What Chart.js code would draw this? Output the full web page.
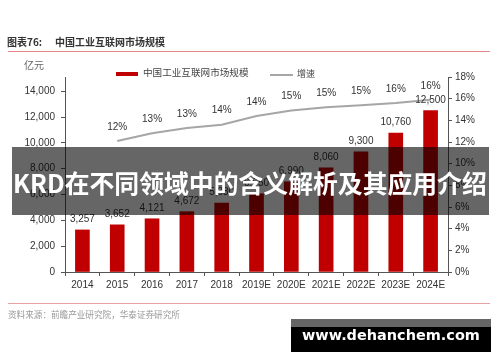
<!DOCTYPE html>
<html><head><meta charset="utf-8">
<script src="https://cdn.jsdelivr.net/npm/chart.js@4/dist/chart.umd.min.js"></script>
<style>
html,body{margin:0;padding:0;background:#fff;}
#wrap{position:relative;width:500px;height:362px;overflow:hidden;background:#fff;}
canvas{position:absolute;left:0;top:0;}
.t{position:absolute;white-space:nowrap;font-family:"Noto Sans CJK SC",sans-serif;line-height:1;}
</style></head>
<body><div id="wrap">
<canvas id="c" width="500" height="362"></canvas>
<div class="t" style="left:7px;top:37px;font-size:10px;font-weight:bold;color:#333;">图表76:</div>
<div class="t" style="left:55px;top:37px;font-size:10px;font-weight:bold;color:#333;">中国工业互联网市场规模</div>
<div style="position:absolute;left:8px;top:51px;width:482px;height:1px;background:#e58a8a;"></div>
<div class="t" style="left:24px;top:60px;font-size:10px;color:#666;">亿元</div>
<div style="position:absolute;left:116px;top:72px;width:22px;height:4px;background:#c00000;"></div>
<div class="t" style="left:143px;top:68px;font-size:9.6px;color:#444;">中国工业互联网市场规模</div>
<div style="position:absolute;left:270px;top:74px;width:23px;height:2px;background:#a6a6a6;"></div>
<div class="t" style="left:297px;top:69px;font-size:9px;color:#444;">增速</div>
<div style="position:absolute;left:8px;top:303px;width:482px;height:1px;background:#e9a0a0;"></div>
<div class="t" style="left:8px;top:310px;font-size:8.6px;color:#999;">资料来源：前瞻产业研究院，华泰证券研究所</div>
<div style="position:absolute;left:12px;top:147px;width:477px;height:68px;background:rgba(0,0,0,0.6);"></div>
<div id="banner" class="t" style="left:13px;top:170px;font-size:26px;font-weight:bold;color:#fff;">KRD在不同领域中的含义解析及其应用介绍</div>
<div style="position:absolute;left:291px;top:319px;width:200px;height:33px;background:linear-gradient(#666 0,#666 8px,#000 8px,#000 100%);"></div>
<div id="wm" class="t" style="left:302px;top:328px;font-family:'DejaVu Sans',sans-serif;font-size:16px;font-weight:bold;color:#fff;">www.dehanchem.com</div>
</div>
<script>
const categories = ['2014','2015','2016','2017','2018','2019E','2020E','2021E','2022E','2023E','2024E'];
const marketSize = [3257, 3652, 4121, 4672, 5330, 6050, 6990, 8060, 9300, 10760, 12500];
const growthRate = [null, 12.1, 12.8, 13.3, 13.6, 14.4, 14.9, 15.2, 15.4, 15.6, 15.9];
const growthLabels = ['', '12%', '13%', '13%', '14%', '14%', '15%', '15%', '15%', '16%', '16%'];
const leftTicks = [0, 2000, 4000, 6000, 8000, 10000, 12000, 14000];
const rightTicks = [0, 2, 4, 6, 8, 10, 12, 14, 16, 18];

// fit overlay texts to their measured widths in the reference
function fitWidth(id, target) {
  const el = document.getElementById(id);
  const w = el.getBoundingClientRect().width;
  const fs = parseFloat(getComputedStyle(el).fontSize);
  el.style.fontSize = (fs * target / w) + 'px';
}
fitWidth('banner', 474);
fitWidth('wm', 178);

const fmt = v => v.toLocaleString('en-US');
const FONT = '"Liberation Sans", Arial, sans-serif';

const labelPlugin = {
  id: 'lbl',
  afterDatasetsDraw(chart) {
    const ctx = chart.ctx;
    ctx.save();
    ctx.font = '10px ' + FONT;
    ctx.fillStyle = '#333';
    ctx.textAlign = 'center';
    ctx.textBaseline = 'middle';
    chart.getDatasetMeta(0).data.forEach((el, i) => {
      ctx.fillText(fmt(marketSize[i]), el.x, el.y - 10.5);
    });
    chart.getDatasetMeta(1).data.forEach((el, i) => {
      if (growthLabels[i]) ctx.fillText(growthLabels[i], el.x, el.y - 14);
    });
    ctx.restore();
  }
};

new Chart(document.getElementById('c'), {
  data: {
    labels: categories,
    datasets: [
      { type: 'bar', data: marketSize, backgroundColor: '#c00000', barThickness: 14, yAxisID: 'y', order: 2 },
      { type: 'line', data: growthRate, borderColor: '#a6a6a6', borderWidth: 2, pointRadius: 0, yAxisID: 'y1', order: 1, tension: 0 }
    ]
  },
  options: {
    responsive: false,
    animation: false,
    layout: { padding: { top: 77, left: 0, right: 0, bottom: 0 } },
    plugins: { legend: { display: false }, tooltip: { enabled: false } },
    scales: {
      x: {
        type: 'category',
        offset: true,
        grid: { display: true, drawOnChartArea: false, drawTicks: true, tickLength: 4, offset: true, color: '#555' },
        border: { color: '#555' },
        ticks: { color: '#333', font: { family: FONT, size: 10 }, padding: 3, maxRotation: 0, autoSkip: false },
        afterFit(s) { s.height = 90; }
      },
      y: {
        position: 'left',
        min: 0, max: 15100,
        afterBuildTicks(s) { s.ticks = leftTicks.map(v => ({ value: v })); },
        grid: { drawOnChartArea: false, drawTicks: true, tickLength: 4, color: '#555' },
        border: { color: '#555' },
        ticks: { color: '#333', font: { family: FONT, size: 10 }, padding: 6, callback: v => fmt(v) },
        afterFit(s) { s.width = 65; }
      },
      y1: {
        position: 'right',
        min: 0, max: 18,
        afterBuildTicks(s) { s.ticks = rightTicks.map(v => ({ value: v })); },
        grid: { drawOnChartArea: false, drawTicks: true, tickLength: 4, color: '#555' },
        border: { color: '#555' },
        ticks: { color: '#333', font: { family: FONT, size: 10 }, padding: 3, callback: v => v + '%' },
        afterFit(s) { s.width = 52; }
      }
    }
  },
  plugins: [labelPlugin]
});
</script>
</body></html>
